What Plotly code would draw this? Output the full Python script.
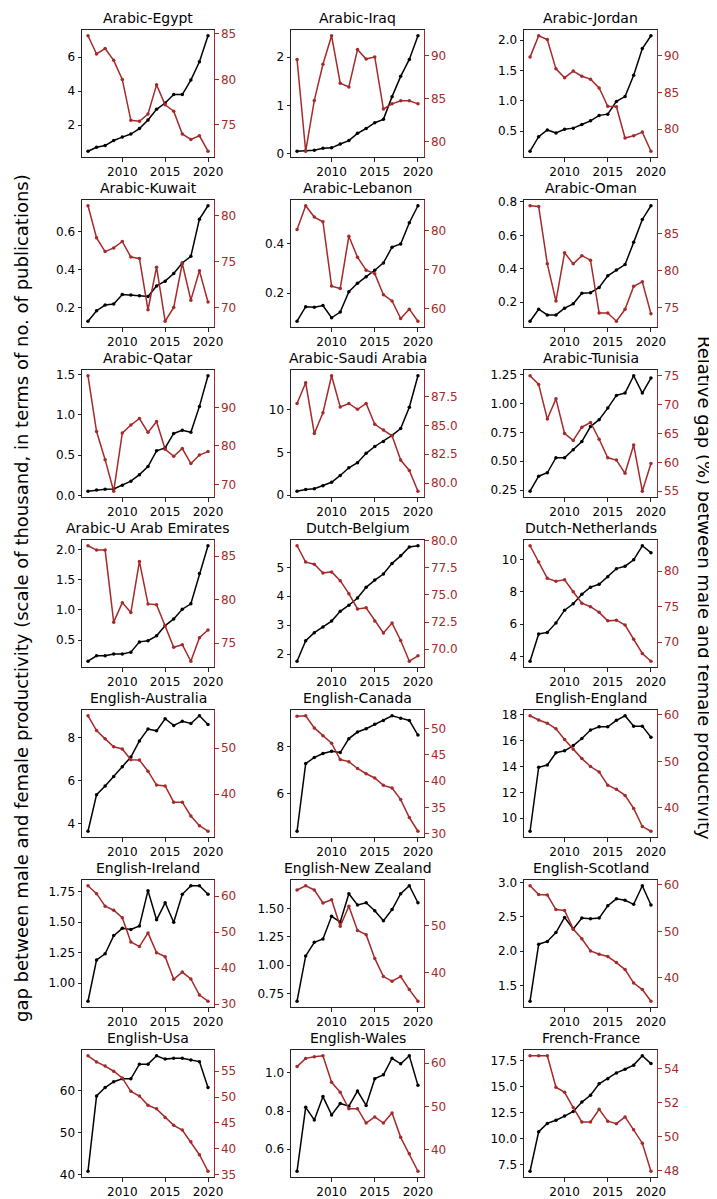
import plotly.graph_objects as go

years = list(range(2006, 2021))

panels = ["Arabic-Egypt", "Arabic-Iraq", "Arabic-Jordan",
          "Arabic-Kuwait", "Arabic-Lebanon", "Arabic-Oman",
          "Arabic-Qatar", "Arabic-Saudi Arabia", "Arabic-Tunisia",
          "Arabic-U Arab Emirates", "Dutch-Belgium", "Dutch-Netherlands",
          "English-Australia", "English-Canada", "English-England",
          "English-Ireland", "English-New Zealand", "English-Scotland",
          "English-Usa", "English-Wales", "French-France"]

# absolute gap (thousands of publications)  /  relative gap (%)
gap_egypt = [0.47, 0.70, 0.80, 1.10, 1.30, 1.48, 1.80, 2.30, 2.93, 3.30, 3.80, 3.80, 4.65, 5.72, 7.25]
rel_egypt = [84.8, 82.8, 83.4, 82.1, 80.0, 75.5, 75.4, 76.2, 79.4, 77.2, 76.5, 74.0, 73.4, 73.8, 72.1]
gap_iraq = [0.05, 0.06, 0.07, 0.11, 0.12, 0.20, 0.27, 0.42, 0.52, 0.64, 0.71, 1.18, 1.60, 1.95, 2.44]
rel_iraq = [89.55, 78.9, 84.8, 89.0, 92.3, 86.8, 86.35, 90.7, 89.6, 89.85, 83.8, 84.4, 84.75, 84.75, 84.4]
gap_jordan = [0.17, 0.41, 0.52, 0.47, 0.53, 0.55, 0.61, 0.67, 0.76, 0.78, 0.99, 1.07, 1.42, 1.86, 2.07]
rel_jordan = [89.8, 92.7, 92.2, 88.2, 87.0, 87.9, 87.2, 86.8, 85.6, 83.1, 83.05, 78.8, 79.1, 79.6, 77.0]
gap_kuwait = [0.13, 0.185, 0.215, 0.22, 0.27, 0.268, 0.263, 0.26, 0.315, 0.34, 0.38, 0.435, 0.47, 0.665, 0.735]
rel_kuwait = [81.1, 77.6, 76.1, 76.5, 77.2, 75.5, 75.35, 69.75, 74.4, 68.5, 70.0, 74.8, 70.8, 74.0, 70.6]
gap_lebanon = [0.086, 0.145, 0.143, 0.15, 0.10, 0.123, 0.206, 0.24, 0.267, 0.293, 0.323, 0.387, 0.40, 0.486, 0.555]
rel_lebanon = [80.2, 86.3, 83.4, 82.2, 65.7, 65.1, 78.5, 73.1, 69.8, 68.9, 63.5, 61.9, 57.4, 59.8, 56.7]
gap_oman = [0.086, 0.158, 0.124, 0.124, 0.164, 0.19, 0.253, 0.257, 0.288, 0.358, 0.392, 0.425, 0.558, 0.695, 0.777]
rel_oman = [88.7, 88.6, 80.9, 75.9, 82.4, 80.9, 82.0, 81.4, 74.3, 74.3, 73.2, 74.8, 77.9, 78.5, 74.2]
gap_qatar = [0.055, 0.07, 0.078, 0.082, 0.13, 0.18, 0.26, 0.36, 0.555, 0.59, 0.77, 0.81, 0.785, 1.105, 1.484]
rel_qatar = [98.2, 83.7, 76.4, 68.2, 83.3, 85.4, 87.1, 83.5, 86.3, 79.1, 77.3, 79.3, 75.4, 77.6, 78.5]
gap_saudi = [0.45, 0.65, 0.75, 1.1, 1.5, 2.3, 3.2, 3.8, 4.9, 5.7, 6.3, 7.0, 7.8, 10.3, 14.0]
rel_saudi = [86.9, 88.7, 84.3, 86.1, 89.3, 86.6, 86.9, 86.4, 86.9, 85.1, 84.6, 84.1, 82.0, 81.1, 79.3]
gap_tunisia = [0.24, 0.37, 0.40, 0.53, 0.53, 0.60, 0.67, 0.80, 0.86, 0.96, 1.07, 1.09, 1.24, 1.09, 1.22]
rel_tunisia = [75.0, 73.5, 67.5, 71.0, 65.0, 63.8, 66.1, 66.9, 64.0, 60.8, 60.4, 58.1, 63.0, 55.0, 59.8]
gap_uae = [0.15, 0.24, 0.24, 0.27, 0.27, 0.30, 0.47, 0.49, 0.57, 0.74, 0.85, 1.01, 1.10, 1.60, 2.06]
rel_uae = [86.2, 85.7, 85.7, 77.4, 79.65, 78.5, 84.4, 79.5, 79.4, 77.0, 74.5, 74.8, 72.9, 75.6, 76.5]
gap_belgium = [1.75, 2.46, 2.74, 2.94, 3.14, 3.48, 3.69, 3.94, 4.31, 4.56, 4.77, 5.14, 5.40, 5.71, 5.75]
rel_belgium = [79.5, 78.0, 77.8, 77.0, 77.1, 76.3, 75.1, 73.7, 73.8, 72.6, 71.5, 72.4, 70.8, 68.9, 69.4]
gap_netherlands = [3.7, 5.39, 5.49, 6.08, 6.87, 7.27, 7.86, 8.3, 8.48, 8.95, 9.45, 9.6, 10.0, 10.87, 10.44]
rel_netherlands = [83.6, 81.3, 79.0, 78.6, 78.8, 77.1, 75.5, 75.0, 74.2, 73.0, 73.1, 72.4, 70.4, 68.4, 67.3]
gap_australia = [3.65, 5.35, 5.75, 6.2, 6.65, 7.1, 7.85, 8.4, 8.32, 8.88, 8.57, 8.76, 8.66, 9.02, 8.61]
rel_australia = [57.0, 53.8, 52.0, 50.3, 49.8, 47.5, 47.4, 45.0, 42.0, 41.8, 38.3, 38.3, 35.3, 33.2, 32.0]
gap_canada = [4.4, 7.27, 7.53, 7.7, 7.79, 7.74, 8.33, 8.61, 8.75, 8.94, 9.1, 9.3, 9.2, 9.1, 8.48]
rel_canada = [52.3, 52.4, 50.1, 48.6, 47.2, 44.1, 43.7, 42.4, 41.4, 40.6, 39.2, 38.7, 36.5, 33.1, 30.5]
gap_england = [9.0, 13.93, 14.1, 15.05, 15.2, 15.6, 16.15, 16.8, 17.05, 17.05, 17.55, 17.9, 17.1, 17.1, 16.25]
rel_england = [59.8, 58.9, 58.2, 57.0, 54.7, 52.6, 50.6, 48.9, 47.7, 44.9, 44.0, 42.7, 39.9, 36.0, 35.0]
gap_ireland = [0.85, 1.19, 1.24, 1.39, 1.45, 1.44, 1.47, 1.76, 1.52, 1.66, 1.50, 1.73, 1.80, 1.80, 1.73]
rel_ireland = [62.9, 60.7, 57.2, 56.1, 54.0, 47.3, 46.0, 49.8, 44.3, 43.2, 36.9, 38.9, 37.0, 32.5, 30.8]
gap_newzealand = [0.68, 1.08, 1.20, 1.23, 1.43, 1.38, 1.63, 1.53, 1.55, 1.48, 1.39, 1.49, 1.63, 1.70, 1.55]
rel_newzealand = [57.7, 58.6, 57.7, 54.9, 55.6, 49.9, 54.2, 49.0, 48.1, 43.0, 39.1, 38.1, 39.1, 36.3, 33.8]
gap_scotland = [1.27, 2.10, 2.14, 2.27, 2.49, 2.32, 2.48, 2.47, 2.48, 2.66, 2.76, 2.74, 2.68, 2.95, 2.67]
rel_scotland = [59.8, 57.9, 57.8, 54.7, 54.5, 50.5, 48.4, 45.8, 45.1, 44.6, 43.3, 41.8, 38.9, 37.5, 35.0]
gap_usa = [40.8, 58.8, 60.8, 62.2, 62.9, 62.9, 66.4, 66.4, 68.4, 67.6, 67.8, 67.8, 67.4, 67.0, 60.8]
rel_usa = [58.0, 56.8, 56.0, 55.0, 53.7, 51.1, 50.2, 48.4, 47.7, 46.0, 44.5, 43.6, 41.3, 38.8, 35.6]
gap_wales = [0.485, 0.82, 0.754, 0.876, 0.78, 0.84, 0.826, 0.905, 0.83, 0.97, 0.99, 1.077, 1.048, 1.09, 0.935]
rel_wales = [59.2, 61.1, 61.5, 61.7, 55.6, 53.3, 49.5, 49.5, 46.2, 47.6, 46.2, 48.5, 42.9, 39.1, 35.1]
gap_france = [6.9, 10.7, 11.5, 11.8, 12.2, 12.65, 13.55, 14.2, 15.3, 15.8, 16.35, 16.7, 17.1, 18.0, 17.25]
rel_france = [54.75, 54.75, 54.75, 52.9, 52.6, 51.7, 50.85, 50.85, 51.6, 50.9, 50.75, 51.15, 50.4, 49.6, 47.95]

gap_series = [gap_egypt, gap_iraq, gap_jordan, gap_kuwait, gap_lebanon, gap_oman,
              gap_qatar, gap_saudi, gap_tunisia, gap_uae, gap_belgium, gap_netherlands,
              gap_australia, gap_canada, gap_england, gap_ireland, gap_newzealand,
              gap_scotland, gap_usa, gap_wales, gap_france]
rel_series = [rel_egypt, rel_iraq, rel_jordan, rel_kuwait, rel_lebanon, rel_oman,
              rel_qatar, rel_saudi, rel_tunisia, rel_uae, rel_belgium, rel_netherlands,
              rel_australia, rel_canada, rel_england, rel_ireland, rel_newzealand,
              rel_scotland, rel_usa, rel_wales, rel_france]

# tick labels (left axis / right axis)
left_ticks = [["2", "4", "6"], ["0", "1", "2"], ["0.5", "1.0", "1.5", "2.0"],
              ["0.2", "0.4", "0.6"], ["0.2", "0.4"], ["0.2", "0.4", "0.6", "0.8"],
              ["0.0", "0.5", "1.0", "1.5"], ["0", "5", "10"], ["0.25", "0.50", "0.75", "1.00", "1.25"],
              ["0.5", "1.0", "1.5", "2.0"], ["2", "3", "4", "5"], ["4", "6", "8", "10"],
              ["4", "6", "8"], ["6", "8"], ["10", "12", "14", "16", "18"],
              ["1.00", "1.25", "1.50", "1.75"], ["0.75", "1.00", "1.25", "1.50"], ["1.5", "2.0", "2.5", "3.0"],
              ["40", "50", "60"], ["0.6", "0.8", "1.0"], ["7.5", "10.0", "12.5", "15.0", "17.5"]]
right_ticks = [["75", "80", "85"], ["80", "85", "90"], ["80", "85", "90"],
               ["70", "75", "80"], ["60", "70", "80"], ["75", "80", "85"],
               ["70", "80", "90"], ["80.0", "82.5", "85.0", "87.5"], ["55", "60", "65", "70", "75"],
               ["75", "80", "85"], ["70.0", "72.5", "75.0", "77.5", "80.0"], ["70", "75", "80"],
               ["40", "50"], ["30", "35", "40", "45", "50"], ["40", "50", "60"],
               ["30", "40", "50", "60"], ["40", "50"], ["40", "50", "60"],
               ["35", "40", "45", "50", "55"], ["40", "50", "60"], ["48", "50", "52", "54"]]
x_ticks = ["2010", "2015", "2020"]

left_title = "gap between male and female productivity (scale of thousand, in terms of no. of publications)"
right_title = "Relative gap (%) between male and female productivity"

BLACK = "black"
RED = "#a52a2a"
W, H = 717, 1199
FONT = "DejaVu Sans, sans-serif"

col_px = [(74, 206), (283, 416), (516, 649)]
row_top_px = [22, 192, 362, 532, 702, 872, 1042]
box_h = 127


def padded(vals):
    lo, hi = min(vals), max(vals)
    d = (hi - lo) * 0.05
    return [lo - d, hi + d]


fig = go.Figure()
layout = {}
annotations = []

for i, name in enumerate(panels):
    r, c = divmod(i, 3)
    xa = "x" if i == 0 else f"x{i + 1}"
    yl = f"y{2 * i + 1}" if i > 0 else "y"
    yr = f"y{2 * i + 2}"
    x0, x1 = col_px[c]
    top = row_top_px[r]
    bot = top + box_h
    xdom = [x0 / W, x1 / W]
    ydom = [1 - bot / H, 1 - top / H]

    fig.add_trace(go.Scatter(x=years, y=gap_series[i], mode="lines+markers",
                             line=dict(color=BLACK, width=1.5), marker=dict(size=3.5, color=BLACK),
                             xaxis=xa, yaxis=yl, showlegend=False))
    fig.add_trace(go.Scatter(x=years, y=rel_series[i], mode="lines+markers",
                             line=dict(color=RED, width=1.5), marker=dict(size=3.5, color=RED),
                             xaxis=xa, yaxis=yr, showlegend=False))

    xkey = "xaxis" if i == 0 else f"xaxis{i + 1}"
    ylkey = "yaxis" if i == 0 else f"yaxis{2 * i + 1}"
    yrkey = f"yaxis{2 * i + 2}"

    common = dict(showgrid=False, zeroline=False, automargin=False, ticks="outside",
                  ticklen=3.5, tickwidth=1, linewidth=1, showline=True)
    layout[xkey] = dict(domain=xdom, anchor=yl, range=[2005.3, 2020.7],
                        tickvals=[int(t) for t in x_ticks], ticktext=x_ticks,
                        mirror=True, linecolor="#222", tickcolor="#222",
                        tickfont=dict(family=FONT, size=12, color=BLACK), **common)
    layout[ylkey] = dict(domain=ydom, anchor=xa, range=padded(gap_series[i]),
                         tickvals=[float(t) for t in left_ticks[i]], ticktext=left_ticks[i],
                         linecolor="#222", tickcolor="#222",
                         tickfont=dict(family=FONT, size=12, color=BLACK), **common)
    layout[yrkey] = dict(overlaying=yl, side="right", anchor=xa, range=padded(rel_series[i]),
                         tickvals=[float(t) for t in right_ticks[i]], ticktext=right_ticks[i],
                         linecolor=RED, tickcolor=RED,
                         tickfont=dict(family=FONT, size=12, color=RED), **common)

    annotations.append(dict(text=name, x=(xdom[0] + xdom[1]) / 2, y=ydom[1] + 2 / H,
                            xref="paper", yref="paper", xanchor="center", yanchor="bottom",
                            showarrow=False, font=dict(family=FONT, size=14, color=BLACK)))

annotations.append(dict(text=left_title, x=13 / W, y=1 - 590 / H, xref="paper", yref="paper",
                        xanchor="center", yanchor="middle", textangle=-90, showarrow=False,
                        font=dict(family=FONT, size=18, color=BLACK)))
annotations.append(dict(text=right_title, x=697 / W, y=1 - 580 / H, xref="paper", yref="paper",
                        xanchor="center", yanchor="middle", textangle=90, showarrow=False,
                        font=dict(family=FONT, size=18, color=BLACK)))

fig.update_layout(width=W, height=H, margin=dict(l=0, r=0, t=0, b=0),
                  plot_bgcolor="white", paper_bgcolor="white",
                  annotations=annotations, **layout)

fig.write_html("out.html")
